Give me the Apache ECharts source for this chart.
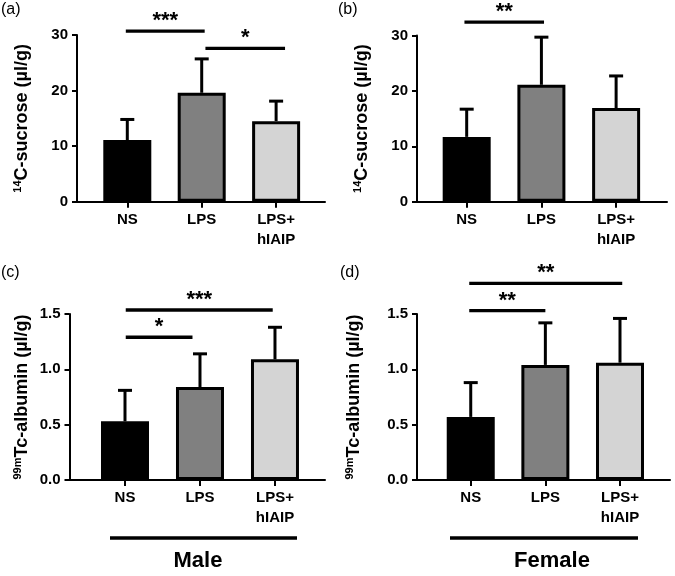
<!DOCTYPE html>
<html><head><meta charset="utf-8">
<script src="https://cdn.jsdelivr.net/npm/echarts@6/dist/echarts.min.js"></script>
<style>html,body{margin:0;padding:0;background:#fff}#c{width:675px;height:576px}</style>
</head><body><div id="c"></div>
<script>
// ---------- data ----------
const categories = ['NS', 'LPS', 'LPS+\nhIAIP'];
const sucroseMaleMean = [11.1, 19.6, 14.5];
const sucroseMaleErr = [3.7, 6.1, 3.6];
const sucroseFemaleMean = [11.7, 21.1, 16.9];
const sucroseFemaleErr = [5.0, 8.6, 5.8];
const albuminMaleMean = [0.53, 0.84, 1.09];
const albuminMaleErr = [0.28, 0.30, 0.29];
const albuminFemaleMean = [0.57, 1.04, 1.06];
const albuminFemaleErr = [0.31, 0.38, 0.40];
const sucroseTicks = [0, 10, 20, 30];
const albuminTicks = [0.0, 0.5, 1.0, 1.5];
// significance bars: [from x, to x, height]
const sigA = [[-0.02, 1.04, 30.7], [1.05, 2.12, 27.6]];
const sigALabels = ['***', '*'];
const sigB = [[-0.03, 1.035, 32.4]];
const sigBLabels = ['**'];
const sigC = [[0.01, 1.97, 1.536], [0.01, 0.9, 1.29]];
const sigCLabels = ['***', '*'];
const sigD = [[-0.02, 2.03, 1.777], [-0.02, 1.0, 1.53]];
const sigDLabels = ['**', '**'];
const panelLetters = ['(a)', '(b)', '(c)', '(d)'];
const groupNames = ['Male', 'Female'];

// ---------- styling / layout ----------
const FONT = '"Liberation Sans", Arial, Helvetica, sans-serif';
const barColors = ['#000000', '#808080', '#d4d4d4'];
const panels = [
  { left: 77, top: 35, width: 248, height: 166.7, xMin: -0.676, xMax: 2.657, ticks: sucroseTicks, dec: 0,
    sup: '14', title: 'C-sucrose (µl/g)', gap: 45, mean: sucroseMaleMean, err: sucroseMaleErr, sig: sigA, sigL: sigALabels },
  { left: 417, top: 35.5, width: 250, height: 166.2, xMin: -0.665, xMax: 2.681, ticks: sucroseTicks, dec: 0,
    sup: '14', title: 'C-sucrose (µl/g)', gap: 45, mean: sucroseFemaleMean, err: sucroseFemaleErr, sig: sigB, sigL: sigBLabels },
  { left: 69.5, top: 314, width: 255.5, height: 166, xMin: -0.74, xMax: 2.667, ticks: albuminTicks, dec: 1,
    sup: '99m', title: 'Tc-albumin (µl/g)', gap: 37, mean: albuminMaleMean, err: albuminMaleErr, sig: sigC, sigL: sigCLabels },
  { left: 417, top: 314, width: 253, height: 166, xMin: -0.72, xMax: 2.67, ticks: albuminTicks, dec: 1,
    sup: '99m', title: 'Tc-albumin (µl/g)', gap: 53, mean: albuminFemaleMean, err: albuminFemaleErr, sig: sigD, sigL: sigDLabels }
];

const chart = echarts.init(document.getElementById('c'), null, { renderer: 'canvas' });
const grid = [], xAxis = [], yAxis = [], series = [];

panels.forEach((p, k) => {
  grid.push({ left: p.left, top: p.top, width: p.width, height: p.height, containLabel: false });
  xAxis.push({
    type: 'value', gridIndex: k, min: p.xMin, max: p.xMax,
    splitLine: { show: false },
    axisLine: { show: true, onZero: false, lineStyle: { color: '#000', width: 2 } },
    axisTick: { show: true, customValues: [0, 1, 2], length: 6, lineStyle: { color: '#000', width: 2 } },
    axisLabel: {
      customValues: [0, 1, 2], margin: 8, color: '#000', fontFamily: FONT, fontSize: 15,
      fontWeight: 'bold', lineHeight: 20,
      formatter: v => categories[Math.round(v)]
    }
  });
  const t = p.ticks;
  yAxis.push({
    type: 'value', gridIndex: k, min: t[0], max: t[t.length - 1], interval: t[1] - t[0],
    splitLine: { show: false },
    axisLine: { show: true, onZero: false, lineStyle: { color: '#000', width: 2 } },
    axisTick: { show: true, length: 5, lineStyle: { color: '#000', width: 2 } },
    axisLabel: { margin: 9, color: '#000', fontFamily: FONT, fontSize: 15, fontWeight: 'bold',
      formatter: v => v.toFixed(p.dec) },
    name: '{s|' + p.sup + '}{t|' + p.title + '}',
    nameLocation: 'middle', nameGap: p.gap,
    nameTextStyle: {
      color: '#000', fontFamily: FONT,
      rich: {
        s: { fontSize: 11, fontWeight: 'bold', fontFamily: FONT, color: '#000', verticalAlign: 'top', lineHeight: 12 },
        t: { fontSize: 18, fontWeight: 'bold', fontFamily: FONT, color: '#000', lineHeight: 20 }
      }
    }
  });
  series.push({
    type: 'bar', xAxisIndex: k, yAxisIndex: k, barWidth: 48,
    data: p.mean.map((v, i) => ({ value: [i, v], itemStyle: { color: barColors[i] } })),
    itemStyle: { borderColor: '#000', borderWidth: 3 },
    emphasis: { disabled: true }, animation: false
  });
  series.push({
    type: 'custom', xAxisIndex: k, yAxisIndex: k, z: 5, animation: false,
    data: p.mean.map((v, i) => [i, v, v + p.err[i]]),
    renderItem: (params, api) => {
      const a = api.coord([api.value(0), api.value(1)]);
      const b = api.coord([api.value(0), api.value(2)]);
      return { type: 'group', children: [
        { type: 'line', shape: { x1: a[0], y1: a[1], x2: b[0], y2: b[1] }, style: { stroke: '#000', lineWidth: 3 } },
        { type: 'line', shape: { x1: b[0] - 7, y1: b[1], x2: b[0] + 7, y2: b[1] }, style: { stroke: '#000', lineWidth: 3 } }
      ] };
    }
  });
  series.push({
    type: 'custom', xAxisIndex: k, yAxisIndex: k, z: 5, clip: false, animation: false,
    data: p.sig,
    renderItem: (params, api) => {
      const a = api.coord([api.value(0), api.value(2)]);
      const b = api.coord([api.value(1), api.value(2)]);
      return { type: 'group', children: [
        { type: 'line', shape: { x1: a[0], y1: a[1], x2: b[0], y2: b[1] }, style: { stroke: '#000', lineWidth: 3.3 } },
        { type: 'text', x: (a[0] + b[0]) / 2, y: a[1] - 10,
          style: { text: p.sigL[params.dataIndex], fill: '#000', font: 'bold 22px ' + FONT, align: 'center', verticalAlign: 'middle' } }
      ] };
    }
  });
});

const graphic = [
  { type: 'text', left: 1, top: 2, style: { text: panelLetters[0], font: '16px ' + FONT, fill: '#000' } },
  { type: 'text', left: 338, top: 2, style: { text: panelLetters[1], font: '16px ' + FONT, fill: '#000' } },
  { type: 'text', left: 1, top: 265, style: { text: panelLetters[2], font: '16px ' + FONT, fill: '#000' } },
  { type: 'text', left: 340, top: 265, style: { text: panelLetters[3], font: '16px ' + FONT, fill: '#000' } },
  { type: 'line', shape: { x1: 110, y1: 538, x2: 297, y2: 538 }, style: { stroke: '#000', lineWidth: 3.3 } },
  { type: 'line', shape: { x1: 450, y1: 538, x2: 638, y2: 538 }, style: { stroke: '#000', lineWidth: 3.3 } },
  { type: 'text', x: 198, y: 561, style: { text: groupNames[0], font: 'bold 22px ' + FONT, fill: '#000', align: 'center', verticalAlign: 'middle' } },
  { type: 'text', x: 552, y: 561, style: { text: groupNames[1], font: 'bold 22px ' + FONT, fill: '#000', align: 'center', verticalAlign: 'middle' } }
];

chart.setOption({ animation: false, backgroundColor: '#fff', grid, xAxis, yAxis, series, graphic });
</script></body></html>
